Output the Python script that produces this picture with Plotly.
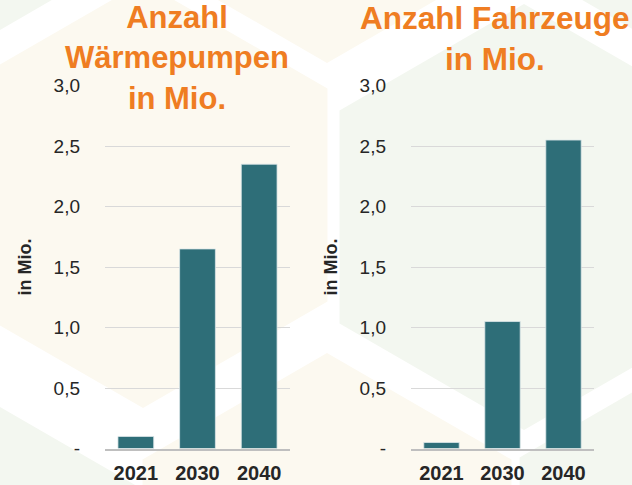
import math
import plotly.graph_objects as go

# ---------------- data ----------------
categories = ["2021", "2030", "2040"]
waermepumpen = [0.10, 1.65, 2.35]      # Anzahl Wärmepumpen in Mio.
fahrzeuge = [0.05, 1.05, 2.55]         # Anzahl Fahrzeuge in Mio.
tick_vals = [0, 0.5, 1.0, 1.5, 2.0, 2.5, 3.0]
tick_text = ["-", "0,5", "1,0", "1,5", "2,0", "2,5", "3,0"]
title_left = "Anzahl<br>Wärmepumpen<br>in Mio."
title_right = "Anzahl Fahrzeuge<br>in Mio."
axis_title = "in Mio."

# ---------------- style ----------------
W, H = 632, 485
FONT = "Arial, Liberation Sans, sans-serif"
BAR = "#2E6E78"
ORANGE = "#EF7D22"
TXT = "#262626"
CREAM = "#FCF9F0"
GREEN = "#F3F7F0"

fig = go.Figure()
bar_style = dict(marker=dict(color=BAR, line=dict(color="rgba(220,230,232,0.8)", width=1)),
                 width=0.58, hoverinfo="x+y", showlegend=False)
fig.add_trace(go.Bar(x=categories, y=waermepumpen, xaxis="x", yaxis="y", **bar_style))
fig.add_trace(go.Bar(x=categories, y=fahrzeuge, xaxis="x2", yaxis="y2", **bar_style))

# decorative hexagon background (pixel centres, pointy-top)
R = 213
hexes = [
    ((143, 195), CREAM), ((327, -150), CREAM), ((327, 566), CREAM),
    ((524, 217), GREEN), ((704, 564), GREEN), ((-45, 594), GREEN),
    ((-40, -160), GREEN), ((700, -145), GREEN),
]
shapes = []
for (cx, cy), col in hexes:
    pts = []
    for k in range(6):
        a = math.radians(-90 + 60 * k)
        px, py = cx + R * math.cos(a), cy + R * math.sin(a)
        pts.append(f"{px / W:.4f},{1 - py / H:.4f}")
    path = "M" + " L".join(pts) + " Z"
    shapes.append(dict(type="path", path=path, xref="paper", yref="paper",
                       fillcolor=col, line=dict(width=0), layer="below"))

ydom = [0.0751, 0.8235]
xdom1 = [105 / W, 290 / W]
xdom2 = [411 / W, 594 / W]

def xax(dom, anchor):
    return dict(domain=dom, anchor=anchor, showline=True, linecolor="#BFBFBF", linewidth=1.5,
                showgrid=False, ticks="", fixedrange=True, automargin=False,
                ticklabelstandoff=6,
                tickfont=dict(family=FONT, size=20, color=TXT, weight="bold"))

def yax(anchor):
    return dict(domain=ydom, anchor=anchor, range=[0, 3], tickvals=tick_vals, ticktext=tick_text,
                showgrid=True, gridcolor="#D9D9D9", gridwidth=1, zeroline=False, showline=False,
                ticks="", ticklabelstandoff=24, fixedrange=True, automargin=False,
                tickfont=dict(family=FONT, size=19, color=TXT),
                title=dict(text=axis_title, standoff=17,
                           font=dict(family=FONT, size=18, color=TXT, weight="bold")))

fig.update_layout(
    width=W, height=H, margin=dict(l=0, r=0, t=0, b=0, pad=0, autoexpand=False),
    paper_bgcolor="white", plot_bgcolor="rgba(0,0,0,0)",
    font=dict(family=FONT, color=TXT),
    xaxis=xax(xdom1, "y"), yaxis=yax("x"),
    xaxis2=xax(xdom2, "y2"), yaxis2=yax("x2"),
    bargap=0.42, shapes=shapes,
    annotations=[
        dict(text=title_left, x=177 / W, y=1, yshift=2, xref="paper", yref="paper",
             xanchor="center", yanchor="top", showarrow=False, align="center",
             font=dict(family=FONT, size=31, color=ORANGE, weight="bold")),
        dict(text=title_right, x=495 / W, y=1, yshift=2, xref="paper", yref="paper",
             xanchor="center", yanchor="top", showarrow=False, align="center",
             font=dict(family=FONT, size=31.5, color=ORANGE, weight="bold")),
    ],
)

fig.write_html("out.html", config={"responsive": False, "displayModeBar": False},
               post_script="document.body.style.margin='0';document.body.style.overflow='hidden';")
